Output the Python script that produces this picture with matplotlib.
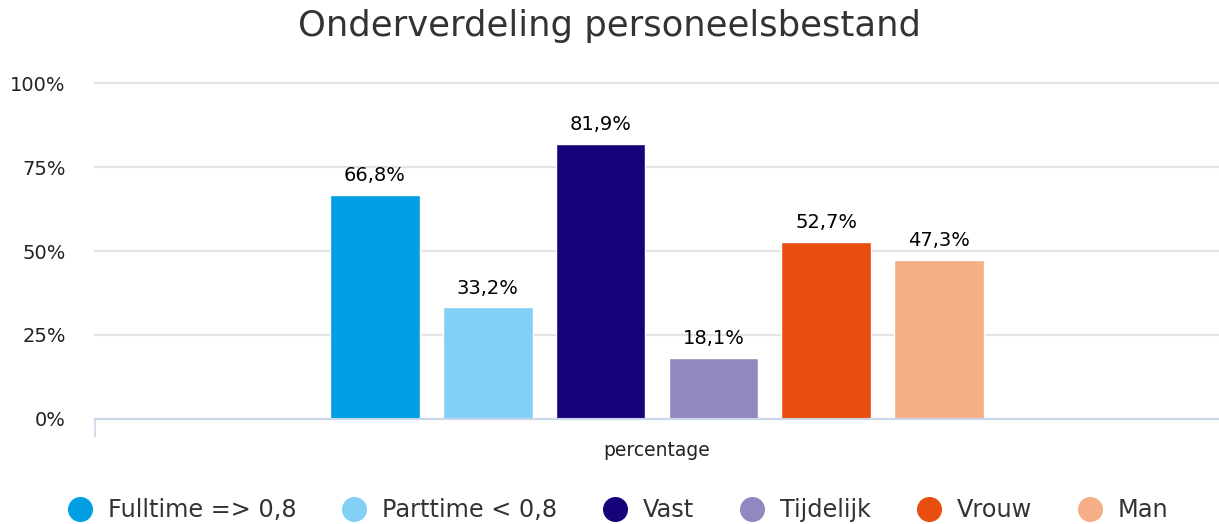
import matplotlib
matplotlib.use("Agg")
import matplotlib.pyplot as plt
from matplotlib.lines import Line2D

plt.rcParams['font.family'] = ['DejaVu Sans']

title = "Onderverdeling personeelsbestand"
category = "percentage"
series = ["Fulltime => 0,8", "Parttime < 0,8", "Vast", "Tijdelijk", "Vrouw", "Man"]
values = [66.8, 33.2, 81.9, 18.1, 52.7, 47.3]
labels = ["66,8%", "33,2%", "81,9%", "18,1%", "52,7%", "47,3%"]
colors = ["#009FE3", "#82D0F5", "#16037A", "#9287BF", "#E84E0F", "#F5AE85"]
yticks = [0, 25, 50, 75, 100]
yticklabels = ["0%", "25%", "50%", "75%", "100%"]

W, H = 1219, 524
fig = plt.figure(figsize=(W / 100, H / 100), dpi=100)
ax = fig.add_axes([95 / W, 1 - 419 / H, (W - 95) / W, (419 - 83) / H])

n = len(values)
slot = 0.1005
bw = 0.08
for i, (v, c, lab) in enumerate(zip(values, colors, labels)):
    x = (i - (n - 1) / 2) * slot
    ax.bar(x, v, width=bw, color=c, edgecolor="white", linewidth=1, zorder=3)
    ax.annotate(lab, (x, v), xytext=(0, 7), textcoords="offset points",
                ha="center", va="bottom", fontsize=14, color="#000000")

ax.set_xlim(-0.5, 0.5)
ax.set_ylim(0, 100)
ax.set_yticks(yticks)
ax.set_yticklabels(yticklabels, fontsize=14, color="#222222")
ax.tick_params(axis="y", length=0, pad=21)
ax.set_xticks([0])
ax.set_xticklabels([category], fontsize=13.5, color="#222222")
ax.tick_params(axis="x", length=0, pad=16)
ax.set_xticks([-0.5], minor=True)
ax.tick_params(axis="x", which="minor", length=13, width=1.2, color="#ccd6eb")

ax.grid(axis="y", color="#e3e3e3", linewidth=1.5, zorder=0)
for gl in ax.yaxis.get_gridlines():
    gl.set_clip_on(False)
for s in ["top", "right", "left"]:
    ax.spines[s].set_visible(False)
ax.spines["bottom"].set_color("#ccd6eb")
ax.spines["bottom"].set_linewidth(1.5)
ax.spines["bottom"].set_zorder(4)

fig.text(0.5, 1 - 26 / H, title, ha="center", va="center", fontsize=25.5,
         color="#333333")

handles = [Line2D([], [], marker="o", linestyle="none", markersize=17,
                  markerfacecolor=c, markeredgecolor=c) for c in colors]
fig.legend(handles, series, loc="center", bbox_to_anchor=(617 / W, 1 - 510 / H),
           ncol=n, frameon=False, fontsize=17.3, handlelength=1.2,
           handletextpad=0.57, columnspacing=1.8, labelcolor="#333333")

fig.savefig("out.png", dpi=100)
